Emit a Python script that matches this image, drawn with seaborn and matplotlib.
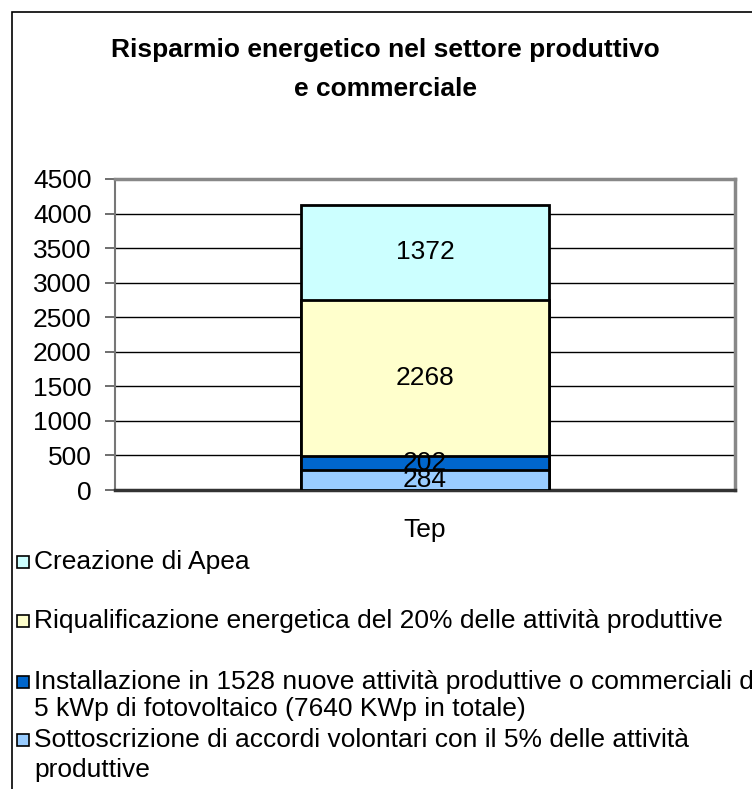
import matplotlib.pyplot as plt
import matplotlib.patches as mpatches
import seaborn as sns
import pandas as pd
import numpy as np

# Data (bottom segment first)
category = ['Tep']
series = [
    'Sottoscrizione di accordi volontari con il 5% delle attività\nproduttive',
    'Installazione in 1528 nuove attività produttive o commerciali di\n5 kWp di fotovoltaico (7640 KWp in totale)',
    'Riqualificazione energetica del 20% delle attività produttive',
    'Creazione di Apea',
]
values = [284, 202, 2268, 1372]
colors = ['#99CCFF', '#0066CC', '#FFFFCC', '#CCFFFF']
y_ticks = [0, 500, 1000, 1500, 2000, 2500, 3000, 3500, 4000, 4500]

sns.set_style('white')
plt.rcParams['font.family'] = ['Liberation Sans', 'DejaVu Sans']
plt.rcParams['text.color'] = 'black'
plt.rcParams['xtick.labelcolor'] = 'black'
plt.rcParams['ytick.labelcolor'] = 'black'

fig = plt.figure(figsize=(7.52, 7.89), dpi=100)
W, H = 752, 789
ax = fig.add_axes([115 / W, (H - 490) / H, 620 / W, 311 / H])

# stacked bars: draw cumulative totals from the top down
tops = np.cumsum(values)
for i in range(len(values) - 1, -1, -1):
    df = pd.DataFrame({'cat': category, 'val': [tops[i]]})
    sns.barplot(data=df, x='cat', y='val', color=colors[i], width=0.4,
                edgecolor='black', linewidth=2, saturation=1, ax=ax, zorder=3)

# segment labels
for i, v in enumerate(values):
    ax.text(0, tops[i] - v / 2, str(v), ha='center', va='center',
            fontsize=19, color='black', zorder=4)

ax.set_xlim(-0.5, 0.5)
ax.set_ylim(0, 4500)
ax.set_yticks(y_ticks)
ax.set_yticklabels([str(t) for t in y_ticks], fontsize=19, color='black')
ax.set_xticks([0])
ax.set_xticklabels(category, fontsize=19, color='black')
ax.tick_params(axis='x', length=0, pad=20)
ax.tick_params(axis='y', length=7, width=1.2, color='#555555', pad=10, direction='out', left=True)
ax.set_xlabel('')
ax.set_ylabel('')
ax.yaxis.grid(True, color='black', linewidth=1, zorder=0)
ax.set_axisbelow(True)
for s in ['top', 'right']:
    ax.spines[s].set_color('#888888')
    ax.spines[s].set_linewidth(2.5)
ax.spines['left'].set_color('#777777')
ax.spines['left'].set_linewidth(1.5)
ax.spines['bottom'].set_color('#333333')
ax.spines['bottom'].set_linewidth(2.5)

# outer chart frame
fig.patches.append(mpatches.Rectangle((12 / W, -0.1), 1.2, (H - 12) / H + 0.1,
                                      transform=fig.transFigure, fill=False,
                                      edgecolor='black', linewidth=1.2))

# title
fig.text(385 / W, 1 - 50 / H, 'Risparmio energetico nel settore produttivo',
         ha='center', va='center', fontsize=19, fontweight='bold', color='black')
fig.text(385 / W, 1 - 89 / H, 'e commerciale',
         ha='center', va='center', fontsize=19, fontweight='bold', color='black')

# legend (top entry = top segment)
line_y = [[562], [621], [682, 709], [740, 770]]
for lab, col, ys in zip(series[::-1], colors[::-1], line_y):
    fig.patches.append(mpatches.Rectangle((17 / W, 1 - (ys[0] + 6) / H), 12 / W, 12 / H,
                                          transform=fig.transFigure,
                                          facecolor=col, edgecolor='black', linewidth=1.2))
    for line, y in zip(lab.split('\n'), ys):
        fig.text(34 / W, 1 - y / H, line, ha='left', va='center', fontsize=19, color='black')

plt.savefig('out.png', dpi=100)
